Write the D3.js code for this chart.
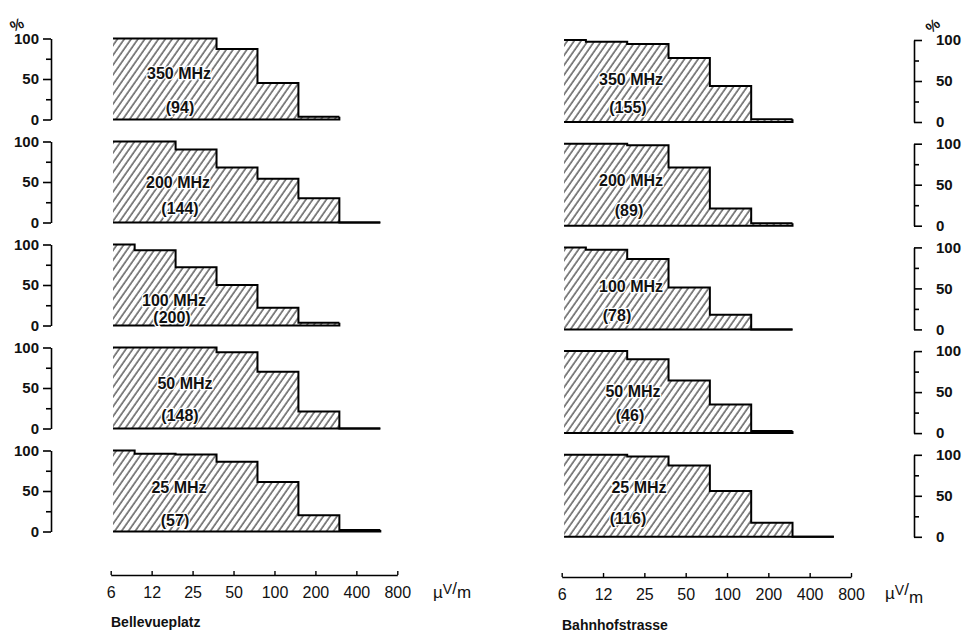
<!DOCTYPE html>
<html><head><meta charset="utf-8">
<script src="https://cdn.jsdelivr.net/npm/d3@7"></script>
<style>body{margin:0;background:#fff}svg{display:block}</style>
</head><body>
<svg id="c" width="965" height="641"></svg>
<script>
// ---------- data ----------
const binEdges = [6.5, 9.375, 18.75, 37.5, 75, 150, 300, 600];
const freqLabels = ["350 MHz", "200 MHz", "100 MHz", "50 MHz", "25 MHz"];
const leftCounts = [94, 144, 200, 148, 57];
const rightCounts = [155, 89, 78, 46, 116];
const leftValues = [
  [100, 100, 100, 87, 45, 3.5],
  [100, 100, 90, 68, 54, 30, 0],
  [100, 93, 72, 50, 22, 3.5],
  [100, 100, 100, 94, 70, 21, 0],
  [100, 96, 95, 86, 61, 20, 2]
];
const rightValues = [
  [100, 98, 95, 78, 44, 3.5],
  [100, 100, 98, 71, 21, 3],
  [100, 97, 86, 51, 18, 0],
  [100, 100, 90, 64, 35, 2.5],
  [100, 100, 98, 87, 56, 17, 0]
];
const xTickValues = [6.25, 12.5, 25, 50, 100, 200, 400, 800];
const xTickLabels = ["6", "12", "25", "50", "100", "200", "400", "800"];
const yTickValues = [0, 25, 50, 75, 100];
const yMajorLabels = {0: "0", 50: "50", 100: "100"};
const siteNames = ["Bellevueplatz", "Bahnhofstrasse"];

// ---------- layout ----------
const cols = [
  {values: leftValues, counts: leftCounts, site: siteNames[0], xr: [110.7, 397.3], zero0: 119.5, step: 103, h: 81,
   axisX: 51, side: "left", xAxisY: 575,
   lab: [[179,73],[178,182],[174,300],[185,383],[179,487]],
   cnt: [[180,107],[180,208],[172,317],[180,415],[175,520]],
   unit: [433, 598], title: [111, 627]},
  {values: rightValues, counts: rightCounts, site: siteNames[1], xr: [561.7, 851], zero0: 122, step: 103.7, h: 82,
   axisX: 914, side: "right", xAxisY: 577,
   lab: [[631,79],[631,180],[631,286],[633,391],[639,487]],
   cnt: [[628,107],[629,210],[617,315],[630,415],[628,518]],
   unit: [885, 599], title: [562, 630]}
];

const svg = d3.select("#c");
const defs = svg.append("defs");
const pat = defs.append("pattern").attr("id", "hatch").attr("patternUnits", "userSpaceOnUse")
  .attr("width", 5.6).attr("height", 10).attr("patternTransform", "rotate(35)");
pat.append("line").attr("x1", 1).attr("y1", 0).attr("x2", 1).attr("y2", 10)
  .attr("stroke", "#222").attr("stroke-width", 1.1);

const FONT = "'Liberation Sans', Arial, sans-serif";

cols.forEach(col => {
  const x = d3.scaleLog().base(2).domain([6.25, 800]).range(col.xr);
  col.values.forEach((vals, i) => {
    const zero = col.zero0 + i * col.step;
    const y = d3.scaleLinear().domain([0, 100]).range([zero, zero - col.h]);
    const pts = vals.map((v, k) => ({e: binEdges[k], v}));
    pts.push({e: binEdges[vals.length], v: vals[vals.length - 1]});
    const g = svg.append("g");
    const area = d3.area().curve(d3.curveStepAfter).x(d => x(d.e)).y0(y(0)).y1(d => y(d.v));
    g.append("path").attr("d", area(pts)).attr("fill", "url(#hatch)");
    const line = d3.line().curve(d3.curveStepAfter).x(d => x(d.e)).y(d => y(d.v));
    g.append("path").attr("d", line(pts)).attr("fill", "none").attr("stroke", "#000")
      .attr("stroke-width", 2).attr("stroke-linejoin", "miter");
    const last = pts[pts.length - 1];
    g.append("path").attr("d", d3.line()([[x(last.e), y(last.v)], [x(last.e), y(0)], [x(pts[0].e), y(0)]]))
      .attr("fill", "none").attr("stroke", "#000").attr("stroke-width", 2);

    // labels
    [[freqLabels[i], col.lab[i]], ["(" + col.counts[i] + ")", col.cnt[i]]].forEach(([t, p]) => {
      g.append("text").attr("x", p[0]).attr("y", p[1]).attr("text-anchor", "middle")
        .attr("dominant-baseline", "central").attr("font-family", FONT).attr("font-weight", "bold")
        .attr("font-size", 16).attr("fill", "#111")
        .attr("stroke", "#fff").attr("stroke-width", 2.5).attr("paint-order", "stroke").text(t);
    });

    // y axis
    const ax = (col.side === "left" ? d3.axisLeft(y) : d3.axisRight(y))
      .tickValues(yTickValues).tickSizeOuter(0).tickSizeInner(8).tickPadding(col.side === "left" ? 4 : 14)
      .tickFormat(d => yMajorLabels[d] || "");
    const ag = svg.append("g").attr("transform", `translate(${col.axisX},0)`).call(ax);
    ag.select(".domain").attr("stroke-width", 1.6);
    ag.selectAll(".tick line").attr("stroke-width", 1.6)
      .attr("x2", d => (yMajorLabels[d] ? 8 : 5) * (col.side === "left" ? -1 : 1));
    ag.selectAll("text").attr("font-family", FONT).attr("font-weight", "bold").attr("font-size", 15)
      .attr("fill", "#111").attr("text-anchor", col.side === "left" ? "end" : "start");
  });

  // x axis
  const xa = d3.axisBottom(x).tickValues(xTickValues).tickSizeOuter(0).tickSizeInner(-4).tickPadding(12)
    .tickFormat((d, k) => xTickLabels[k]);
  const xg = svg.append("g").attr("transform", `translate(0,${col.xAxisY})`).call(xa);
  xg.select(".domain").attr("stroke-width", 1.4);
  xg.selectAll(".tick line").attr("stroke-width", 1.4);
  xg.selectAll("text").attr("font-family", FONT).attr("font-size", 16).attr("fill", "#111");

  // unit
  const u = svg.append("text").attr("x", col.unit[0]).attr("y", col.unit[1]).attr("font-family", FONT)
    .attr("font-size", 17).attr("fill", "#111");
  u.append("tspan").text("µ");
  u.append("tspan").attr("dy", -4).attr("font-size", 14).text("V");
  u.append("tspan").attr("dy", 0).text("/");
  u.append("tspan").attr("dy", col.side === "left" ? 4 : 8).text("m");

  // title
  svg.append("text").attr("x", col.title[0]).attr("y", col.title[1]).attr("font-family", FONT)
    .attr("font-weight", "bold").attr("font-size", 14).attr("fill", "#111").text(col.site);
});

// percent signs
svg.append("text").attr("x", 17).attr("y", 30).attr("text-anchor", "middle").attr("font-family", FONT)
  .attr("font-weight", "bold").attr("font-size", 15).attr("fill", "#111")
  .attr("transform", "rotate(-25,17,25)").text("%");
svg.append("text").attr("x", 933).attr("y", 31).attr("text-anchor", "middle").attr("font-family", FONT)
  .attr("font-weight", "bold").attr("font-size", 15).attr("fill", "#111")
  .attr("transform", "rotate(-40,933,26)").text("%");
</script>
</body></html>
